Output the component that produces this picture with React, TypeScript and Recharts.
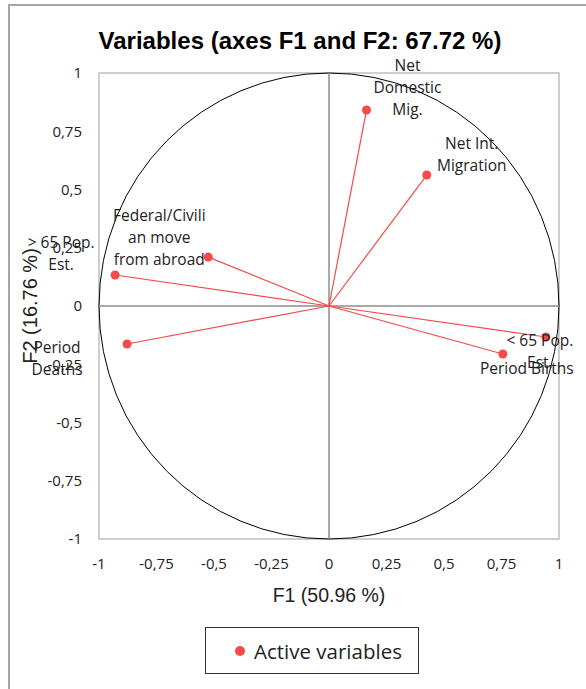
import {
  ScatterChart,
  Scatter,
  XAxis,
  YAxis,
  ReferenceLine,
  ReferenceArea,
} from "recharts"

// PCA correlation circle, F1 x F2
const variableNames = [
  "Net Domestic Mig.",
  "Net Int. Migration",
  "Federal/Civilian move from abroad",
  "> 65 Pop. Est.",
  "Period Deaths",
  "< 65 Pop. Est.",
  "Period Births",
]
const f1Values = [0.163, 0.425, -0.525, -0.93, -0.878, 0.943, 0.756]
const f2Values = [0.841, 0.562, 0.21, 0.133, -0.163, -0.133, -0.206]
const axisTicks = [-1, -0.75, -0.5, -0.25, 0, 0.25, 0.5, 0.75, 1]

// how Excel wrapped each label
const labelLines: Record<string, string[]> = {
  "Net Domestic Mig.": ["Net", "Domestic", "Mig."],
  "Net Int. Migration": ["Net Int.", "Migration"],
  "Federal/Civilian move from abroad": ["Federal/Civili", "an move", "from abroad"],
  "> 65 Pop. Est.": ["> 65 Pop.", "Est."],
  "Period Deaths": ["Period", "Deaths"],
  "< 65 Pop. Est.": ["< 65 Pop.", "Est."],
  "Period Births": ["Period Births"],
}
// label placement relative to the point (px)
const labelOffset: Record<string, { dx: number; dy: number }> = {
  "Net Domestic Mig.": { dx: 41, dy: -45 },
  "Net Int. Migration": { dx: 45, dy: -32 },
  "Federal/Civilian move from abroad": { dx: -49, dy: -42 },
  "> 65 Pop. Est.": { dx: -54, dy: -33 },
  "Period Deaths": { dx: -70, dy: 3 },
  "< 65 Pop. Est.": { dx: -6, dy: 3 },
  "Period Births": { dx: 24, dy: 14 },
}

const data = variableNames.map((name, i) => ({ name, x: f1Values[i], y: f2Values[i] }))

const RED = "#f54a4a"
const LABEL_FONT = "'Open Sans', sans-serif"
const fmt = (v: number) => String(v).replace(".", ",")

const PointShape = (props: any) => {
  const { cx, cy, payload } = props
  const lines = labelLines[payload.name] || [payload.name]
  const off = labelOffset[payload.name] || { dx: 0, dy: -20 }
  return (
    <g>
      <circle cx={cx} cy={cy} r={4.5} fill={RED} />
      <text
        x={cx + off.dx}
        y={cy + off.dy}
        textAnchor="middle"
        dominantBaseline="central"
        fontFamily={LABEL_FONT}
        fontSize={15.5}
        fill="#222"
      >
        {lines.map((l, i) => (
          <tspan key={i} x={cx + off.dx} dy={i === 0 ? 0 : 22}>
            {l}
          </tspan>
        ))}
      </text>
    </g>
  )
}

const CircleShape = (props: any) => {
  const { x, y, width, height } = props
  return (
    <ellipse
      cx={x + width / 2}
      cy={y + height / 2}
      rx={width / 2}
      ry={height / 2}
      fill="none"
      stroke="#000"
      strokeWidth={1}
    />
  )
}

export default function App() {
  return (
    <div
      style={{
        position: "absolute",
        left: 0,
        top: 0,
        width: 586,
        height: 689,
        background: "#fff",
        overflow: "hidden",
      }}
    >
      <div
        style={{
          position: "absolute",
          left: 8,
          top: 4,
          width: 700,
          height: 800,
          borderLeft: "2px solid #a6a6a6",
          borderTop: "2px solid #a6a6a6",
        }}
      />
      <div
        style={{
          position: "absolute",
          left: 0,
          top: 27,
          width: 600,
          textAlign: "center",
          fontFamily: "'Liberation Sans', Arial, sans-serif",
          fontWeight: "bold",
          fontSize: 24,
          color: "#000",
          whiteSpace: "nowrap",
        }}
      >
        Variables (axes F1 and F2: 67.72 %)
      </div>
      <div style={{ position: "absolute", left: 0, top: 0 }}>
        <ScatterChart width={586} height={689} margin={{ top: 73, right: 27, bottom: 80, left: 8 }}>
          <XAxis
            type="number"
            dataKey="x"
            domain={[-1, 1]}
            ticks={axisTicks}
            tickFormatter={fmt}
            axisLine={false}
            tickLine={false}
            tickSize={6}
            tickMargin={13}
            height={70}
            interval={0}
            tick={{ fontFamily: LABEL_FONT, fontSize: 15, fill: "#222" }}
            label={{
              content: (p: any) => {
                const vb = p.viewBox
                return (
                  <text
                    x={vb.x + vb.width / 2}
                    y={vb.y + 63}
                    textAnchor="middle"
                    fontFamily="'Liberation Sans', Arial, sans-serif"
                    fontSize={19.5}
                    fill="#222"
                  >
                    F1 (50.96 %)
                  </text>
                )
              },
            }}
          />
          <YAxis
            type="number"
            dataKey="y"
            domain={[-1, 1]}
            ticks={axisTicks}
            tickFormatter={fmt}
            axisLine={false}
            tickLine={false}
            tickSize={6}
            tickMargin={11}
            width={91}
            interval={0}
            tick={{ fontFamily: LABEL_FONT, fontSize: 15, fill: "#222" }}
            label={{
              content: (p: any) => {
                const vb = p.viewBox
                const cx = vb.x + 22
                const cy = vb.y + vb.height / 2
                return (
                  <text
                    x={cx}
                    y={cy}
                    transform={`rotate(-90 ${cx} ${cy})`}
                    textAnchor="middle"
                    dominantBaseline="central"
                    fontFamily="'Liberation Sans', Arial, sans-serif"
                    fontSize={20}
                    fill="#222"
                  >
                    F2 (16.76 %)
                  </text>
                )
              },
            }}
          />
          <ReferenceArea x1={-1} x2={1} y1={-1} y2={1} fill="none" stroke="#bfbfbf" strokeWidth={1.5} ifOverflow="visible" />
          <ReferenceLine x={0} stroke="#8c8c8c" strokeWidth={1.5} />
          <ReferenceLine y={0} stroke="#8c8c8c" strokeWidth={1.5} />
          <ReferenceArea x1={-1} x2={1} y1={-1} y2={1} shape={CircleShape} ifOverflow="visible" />
          {data.map((d) => (
            <ReferenceLine
              key={d.name}
              segment={[
                { x: 0, y: 0 },
                { x: d.x, y: d.y },
              ]}
              stroke={RED}
              strokeWidth={1.2}
              ifOverflow="visible"
            />
          ))}
          <Scatter name="Active variables" data={data} fill={RED} shape={PointShape} isAnimationActive={false} />
        </ScatterChart>
      </div>
      <div
        style={{
          position: "absolute",
          left: 205,
          top: 627,
          width: 212,
          height: 45,
          border: "1px solid #333",
          display: "flex",
          alignItems: "center",
          fontFamily: LABEL_FONT,
          fontSize: 20.5,
          color: "#222",
        }}
      >
        <span
          style={{
            display: "inline-block",
            width: 10,
            height: 10,
            borderRadius: 5,
            background: RED,
            marginLeft: 29,
            marginRight: 9,
          }}
        />
        Active variables
      </div>
    </div>
  )
}
